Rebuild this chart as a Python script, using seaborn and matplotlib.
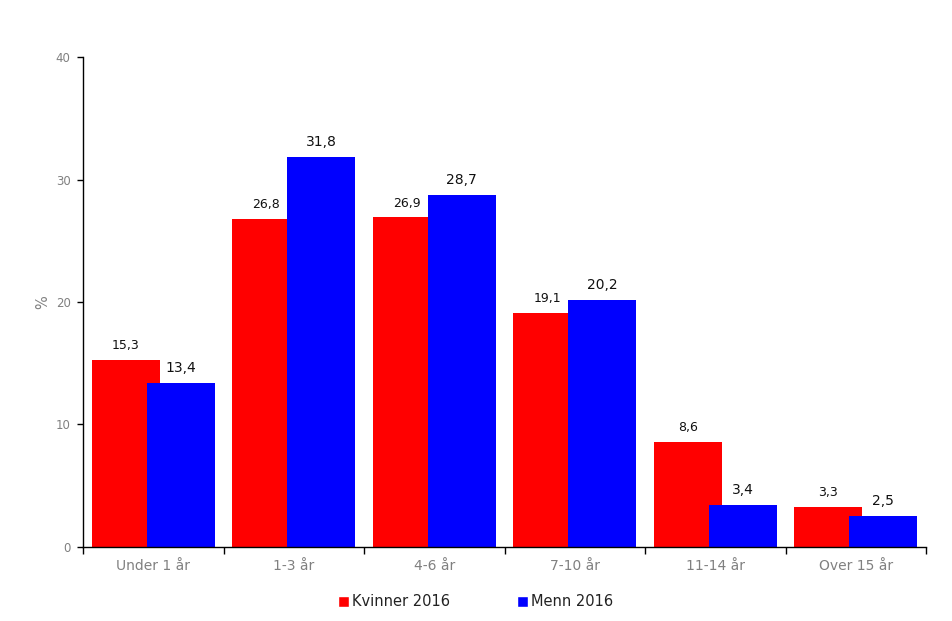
import pandas as pd
import matplotlib.pyplot as plt
import seaborn as sns
from matplotlib.ticker import FixedLocator

# data
kategorier = ['Under 1 år', '1-3 år', '4-6 år', '7-10 år', '11-14 år', 'Over 15 år']
kvinner = [15.3, 26.8, 26.9, 19.1, 8.6, 3.3]
menn = [13.4, 31.8, 28.7, 20.2, 3.4, 2.5]
serier = ['Kvinner 2016', 'Menn 2016']
farger = ['#ff0000', '#0000ff']

df = pd.DataFrame({
    'kategori': kategorier * 2,
    'verdi': kvinner + menn,
    'serie': [serier[0]] * 6 + [serier[1]] * 6,
})

sns.set_style('white')
plt.rcParams['font.family'] = ['DejaVu Sans']

fig = plt.figure(figsize=(9.52, 6.21), dpi=100)
ax = fig.add_axes([0.0872, 0.1192, 0.8855, 0.789])

sns.barplot(data=df, x='kategori', y='verdi', hue='serie', hue_order=serier,
            palette=farger, order=kategorier, width=0.8, saturation=1,
            errorbar=None, ax=ax, legend=True)

# overlappende stolper som i originalen
bw = 0.484
off = 0.196
n = len(kategorier)
for i, p in enumerate(ax.patches[:2 * n]):
    s = i // n
    k = i % n
    c = k + (-off if s == 0 else off)
    p.set_width(bw)
    p.set_x(c - bw / 2)
    p.set_linewidth(0)

# verdier over stolpene
for k in range(n):
    ax.text(k - off, kvinner[k] + 0.65, f'{kvinner[k]:.1f}'.replace('.', ','),
            ha='center', va='bottom', fontsize=9, color='#111111')
    ax.text(k + off, menn[k] + 0.65, f'{menn[k]:.1f}'.replace('.', ','),
            ha='center', va='bottom', fontsize=10, color='#111111')

ax.set_xlim(-0.5, n - 0.5)
ax.set_ylim(0, 40)
ax.set_yticks([0, 10, 20, 30, 40])
ax.tick_params(axis='y', labelsize=8.5, labelcolor='#808080', length=4,
               width=1, color='black', direction='out', left=True, pad=5)
ax.set_xticks(range(n))
ax.set_xticklabels(kategorier)
ax.tick_params(axis='x', which='major', length=0, labelsize=10,
               labelcolor='#808080', pad=9)
ax.xaxis.set_minor_locator(FixedLocator([k - 0.5 for k in range(n + 1)]))
ax.tick_params(axis='x', which='minor', length=5, width=1, color='black',
               direction='out', bottom=True)
ax.set_xlabel('')
ax.set_ylabel('%', color='#808080', fontsize=10.5, labelpad=4)

for side in ['top', 'right']:
    ax.spines[side].set_visible(False)
for side in ['left', 'bottom']:
    ax.spines[side].set_color('black')
    ax.spines[side].set_linewidth(1)

ax.legend(loc='upper center', bbox_to_anchor=(0.466, -0.07), ncol=2,
          frameon=False, fontsize=10.5, handlelength=0.75, handleheight=0.75,
          handletextpad=0.2, columnspacing=4.6, labelcolor='#222222')

fig.savefig('out.png', dpi=100)
